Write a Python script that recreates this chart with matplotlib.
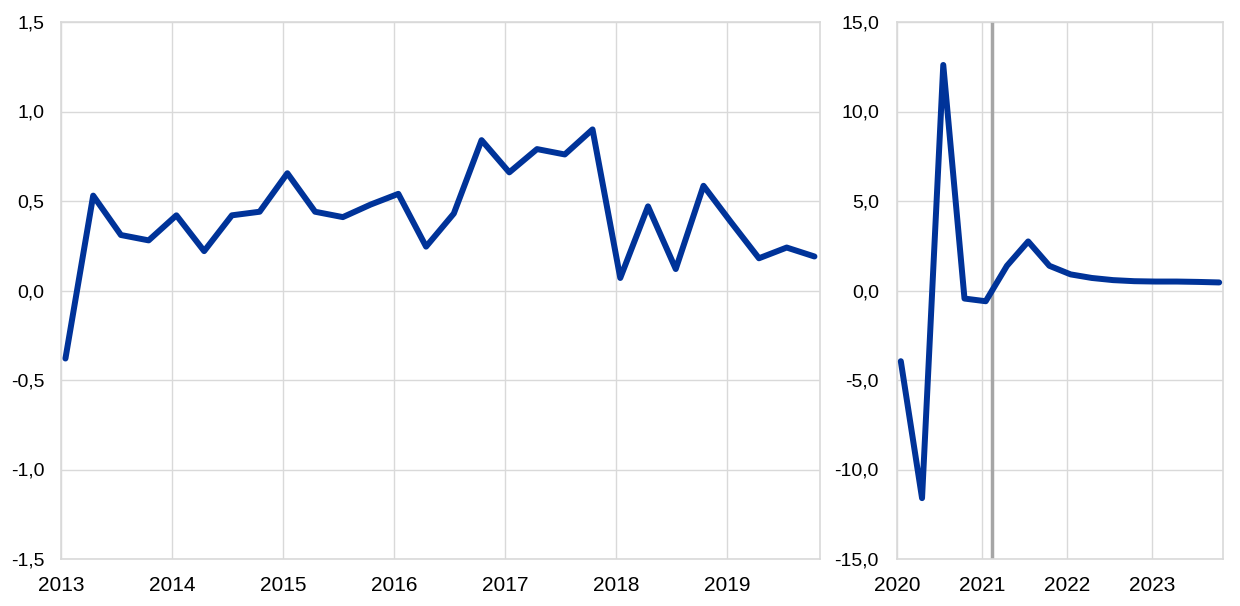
import matplotlib
matplotlib.use("Agg")
import matplotlib.pyplot as plt
from matplotlib.ticker import FuncFormatter

plt.rcParams['font.family'] = ['Liberation Sans', 'DejaVu Sans']

# Left panel: quarterly 2013Q1-2019Q4
left_years = [2013, 2014, 2015, 2016, 2017, 2018, 2019]
left_values = [-0.38, 0.53, 0.31, 0.28,
               0.42, 0.22, 0.42, 0.44,
               0.655, 0.44, 0.41, 0.48,
               0.54, 0.245, 0.43, 0.84,
               0.66, 0.79, 0.76, 0.90,
               0.07, 0.47, 0.12, 0.585,
               0.38, 0.18, 0.24, 0.19]

# Right panel: quarterly 2020Q1-2023Q4
right_years = [2020, 2021, 2022, 2023]
right_values = [-3.95, -11.6, 12.6, -0.45,
                -0.6, 1.38, 2.74, 1.38,
                0.9, 0.7, 0.58, 0.52,
                0.5, 0.5, 0.48, 0.45]
vline_pos = 2021.12

BLUE = '#003399'
GRID = '#d9d9d9'

fig = plt.figure(figsize=(12.4, 6.06), dpi=100)
W, H = 1240, 606
axL = fig.add_axes([61 / W, 1 - 559 / H, (820 - 61) / W, (559 - 22) / H])
axR = fig.add_axes([897 / W, 1 - 559 / H, (1223 - 897) / W, (559 - 22) / H])

def comma(v, pos):
    return f"{v:.1f}".replace('.', ',')

def style(ax, ypad):
    ax.grid(True, color=GRID, linewidth=1.0)
    ax.set_axisbelow(True)
    for s in ax.spines.values():
        s.set_color(GRID)
        s.set_linewidth(1.2)
    ax.tick_params(axis='both', length=0, colors='black')
    ax.tick_params(axis='x', pad=12, labelsize=15)
    ax.tick_params(axis='y', pad=ypad, labelsize=14)
    ax.yaxis.set_major_formatter(FuncFormatter(comma))

off = 0.04  # point offset from year start (fraction of a year)
xl = [left_years[0] + off + i / 4 for i in range(len(left_values))]
axL.plot(xl, left_values, color=BLUE, linewidth=4.3, solid_joinstyle='round', solid_capstyle='round')
axL.set_xlim(left_years[0], left_years[-1] + 0.84)
axL.set_ylim(-1.5, 1.5)
axL.set_yticks([-1.5, -1.0, -0.5, 0.0, 0.5, 1.0, 1.5])
axL.set_xticks(left_years)
axL.set_xticklabels([str(y) for y in left_years])
style(axL, 12)

xr = [right_years[0] + 0.045 + i / 4 for i in range(len(right_values))]
axR.axvline(vline_pos, color='#a6a6a6', linewidth=2.5, zorder=1.5)
axR.plot(xr, right_values, color=BLUE, linewidth=4.3, solid_joinstyle='round', solid_capstyle='round', zorder=3)
axR.set_xlim(right_years[0], right_years[-1] + 0.84)
axR.set_ylim(-15, 15)
axR.set_yticks([-15, -10, -5, 0, 5, 10, 15])
axR.set_xticks(right_years)
axR.set_xticklabels([str(y) for y in right_years])
style(axR, 13)

fig.savefig('out.png', dpi=100)
